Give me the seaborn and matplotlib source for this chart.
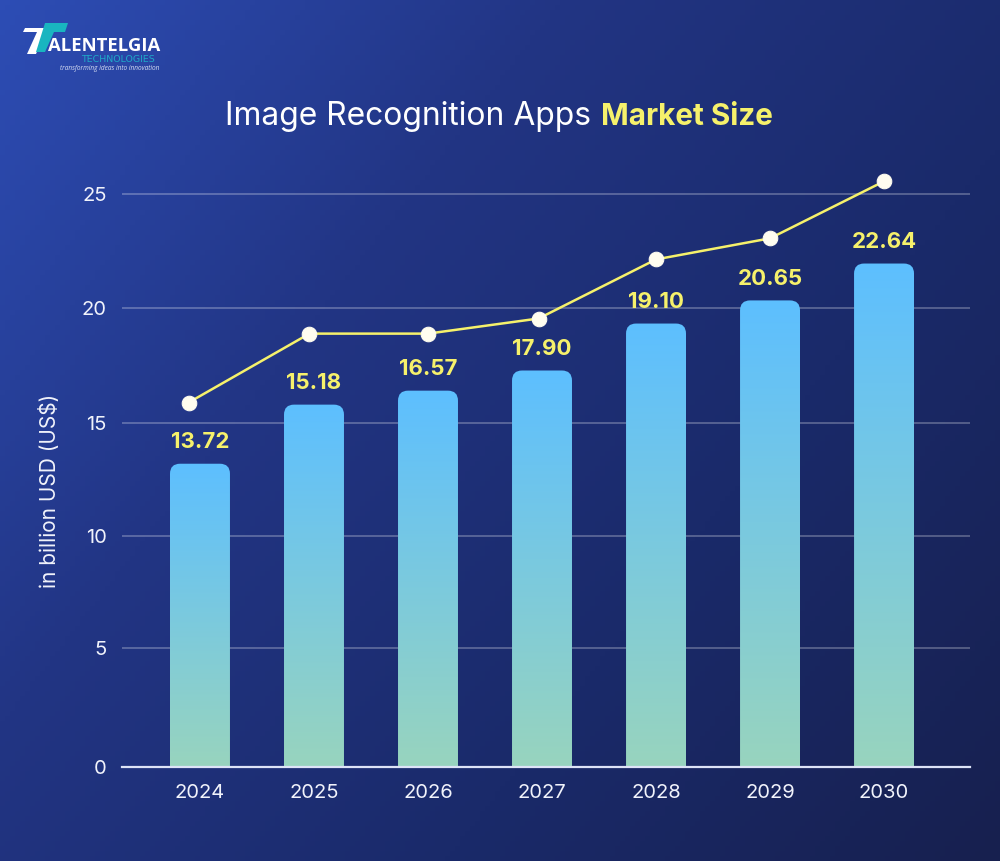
import numpy as np
import pandas as pd
import matplotlib
matplotlib.use("Agg")
import matplotlib.pyplot as plt
import seaborn as sns
from matplotlib.colors import LinearSegmentedColormap
from matplotlib.patches import FancyBboxPatch, Polygon

years = ["2024", "2025", "2026", "2027", "2028", "2029", "2030"]
bar_heights = [13.24, 15.82, 16.43, 17.31, 19.36, 20.37, 21.98]
bar_labels = ["13.72", "15.18", "16.57", "17.90", "19.10", "20.65", "22.64"]
line_values = [15.91, 18.92, 18.92, 19.58, 22.16, 23.08, 25.57]
line_positions = [-0.10, -0.04, 0, -0.03, 0, 0, 0]
y_tick_labels = ["0", "5", "10", "15", "20", "25"]
# the gridlines in the picture are not quite evenly spaced
y_tick_positions = [0, 5.2, 10.1, 15.03, 20.05, 25]

YELLOW = "#F6F16B"
TEAL = "#1FA9C9"

sns.set_style("white")
plt.rcParams["font.family"] = ["Inter", "DejaVu Sans"]

fig = plt.figure(figsize=(10, 8.61), dpi=100)

# background, in pixel coordinates of the picture
bg = fig.add_axes([0, 0, 1, 1])
bg.set_xlim(0, 1000)
bg.set_ylim(861, 0)
bg.axis("off")
gx, gy = np.meshgrid(np.linspace(0, 1, 200), np.linspace(0, 1, 172))
bg_cmap = LinearSegmentedColormap.from_list("bg", ["#2D4DB5", "#223584", "#1A2A6A", "#17204F"])
bg.imshow(gx * 0.6 + gy * 0.4, cmap=bg_cmap, extent=(0, 1000, 861, 0), aspect="auto", vmin=0, vmax=1)

# logo
bg.add_patch(Polygon([(25, 28), (47, 28), (36, 54), (27, 54), (37, 32), (23, 32)], color="white", lw=0))
bg.add_patch(Polygon([(45, 23), (68, 23), (65, 32), (54, 32), (45, 52), (36, 52)], color="#19B5C0", lw=0))
bg.text(48, 51, "ALENTELGIA", color="white", fontsize=13.3, fontweight="bold", family="Open Sans", va="baseline")
bg.text(81, 62, "TECHNOLOGIES", color=TEAL, fontsize=6.8, family="DejaVu Sans", va="baseline")
bg.text(60, 69.5, "transforming ideas into innovation", color="#D5DCF2", fontsize=4.7, style="italic",
        family="Open Sans", va="baseline")

# title
bg.text(225, 117, "Image Recognition Apps", color="white", fontsize=22.9, family="Inter", va="center")
bg.text(601, 117, "Market Size", color=YELLOW, fontsize=21.4, fontweight="bold", family="Inter", va="center")

ax = fig.add_axes([0.122, 94 / 861, 0.848, 607 / 861])
ax.patch.set_alpha(0)

df = pd.DataFrame({"year": years, "height": bar_heights})
sns.barplot(data=df, x="year", y="height", width=0.526, color="#5BBDFF", ax=ax, zorder=2)

ax.set_xlim(-0.684, 6.754)
ax.set_ylim(0, 26.5)

# swap each flat bar for a gradient with rounded top corners
bar_cmap = LinearSegmentedColormap.from_list("bar", ["#5DBFFF", "#98D4BE"])
grad = np.linspace(0, 1, 256).reshape(-1, 1)
x_scale = 848 / (6.754 + 0.684)
y_scale = 607 / 26.5
for bar, label in zip(ax.patches, bar_labels):
    x0, w, h = bar.get_x(), bar.get_width(), bar.get_height()
    bar.set_visible(False)
    im = ax.imshow(grad, cmap=bar_cmap, extent=(x0, x0 + w, 0, h), origin="upper", aspect="auto", zorder=2)
    clip = FancyBboxPatch((x0, -2), w, h + 2, boxstyle="round,pad=0,rounding_size=0.088",
                          mutation_aspect=x_scale / y_scale, transform=ax.transData, fc="none", ec="none")
    ax.add_patch(clip)
    im.set_clip_path(clip)
    ax.text(x0 + w / 2, h + 0.52, label, color=YELLOW, fontsize=16, fontweight="bold", ha="center",
            va="bottom", family="Inter", zorder=5)

ax.set_xlim(-0.684, 6.754)
ax.set_ylim(0, 26.5)

line_x = np.arange(len(years)) + np.array(line_positions)
sns.lineplot(x=line_x, y=line_values, color=YELLOW, lw=1.8, marker="o", markersize=10.5, markerfacecolor="#FFFDF0",
             markeredgecolor="#FFFDF0", ax=ax, zorder=4, clip_on=False)

ax.set_yticks(y_tick_positions)
ax.set_yticklabels(y_tick_labels)
ax.set_xticks(range(len(years)))
ax.set_xticklabels(years)
ax.grid(axis="y", color="white", alpha=0.28, lw=1.3, zorder=1)
ax.set_axisbelow(True)
sns.despine(ax=ax, left=True, top=True, right=True)
ax.spines["bottom"].set_color("#DDE3F7")
ax.spines["bottom"].set_linewidth(1.6)
ax.spines["bottom"].set_zorder(6)
ax.tick_params(axis="both", length=0, labelsize=14.5, labelcolor="#F1F3FB")
ax.tick_params(axis="x", pad=12)
ax.tick_params(axis="y", pad=11)
ax.set_xlabel("")
ax.set_ylabel("")

fig.text(0.05, 1 - 491 / 861, "in billion USD (US$)", rotation=90, color="#F1F3FB", fontsize=15,
         ha="center", va="center")

fig.savefig("out.png", dpi=100)
